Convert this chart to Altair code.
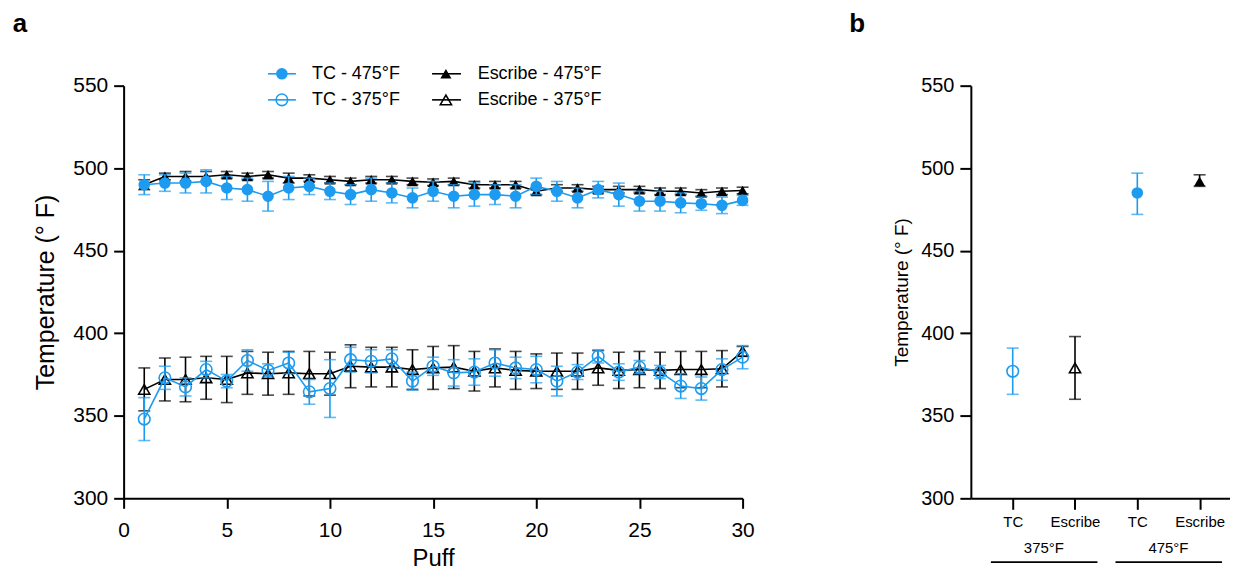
import altair as alt
import pandas as pd

# ---------------- data ----------------
puffs = list(range(1, 31))

tc475_mean = [490, 491, 491, 492, 488, 487, 483, 488, 489, 486, 484, 487, 485, 482, 486,
              483, 484, 484, 483, 489, 486, 482, 487, 484, 480, 480, 479, 478.5, 477.5, 480.5]
tc475_sd = [6, 5, 6, 7, 7, 7, 9, 7, 5, 5, 6, 7, 6, 6, 6,
            7, 7, 6, 7, 5, 6, 6, 5, 7, 6, 6, 6, 4, 5, 3]

esc475_mean = [490, 495, 495, 495, 496, 495, 496, 494, 494, 493, 492, 493, 493, 492, 491.5,
               492, 490, 490, 490, 486, 488, 488, 487, 487, 487, 486, 486, 485, 486, 486.5]
esc475_sd = [3, 2, 3, 3, 2, 2, 2, 3, 2, 2, 2, 2, 2, 2, 2,
             2, 2, 2, 2, 2, 2, 2, 2, 2, 2, 2, 2, 2, 2, 2]

tc375_mean = [348, 373, 367.5, 378, 371, 383.5, 377.5, 382, 364.5, 366.5, 384, 383, 384.5, 371, 380,
              376, 376.5, 382, 379, 378, 371, 376.5, 386, 376.5, 379.5, 376.5, 368, 366.5, 378, 385.5]
tc375_sd = [13, 7, 5.5, 5, 4, 6.5, 4, 6.5, 7.5, 17.5, 7.5, 7, 5.5, 5.5, 5.5,
            8, 8, 8, 6.5, 8, 9, 4.5, 4, 5, 4, 4, 7.5, 7, 6.5, 7]

esc375_mean = [366, 372, 372, 373, 372, 376, 375.5, 376, 375.5, 375.5, 380, 379.5, 379.5, 378, 379,
               379.5, 377, 379, 377.5, 377, 377, 377, 379, 377.5, 378, 377.5, 378, 378, 378.5, 389]
esc375_sd = [13, 13, 13.5, 13, 14, 13, 13, 13, 13.5, 13, 13, 12, 12, 12, 13,
             13, 12, 11.5, 11.5, 10.5, 11, 11, 10.5, 11, 11, 11, 11, 11, 11, 3]

# panel b summary
b_pos = [1, 2, 3, 4]
b_labels = ["TC", "Escribe", "TC", "Escribe"]
b_series = ["TC - 375°F", "Escribe - 375°F", "TC - 475°F", "Escribe - 475°F"]
b_mean = [377, 379, 485, 492]
b_low = [363, 360, 472, 489]
b_high = [391, 398, 497, 496]

group_names = ["375°F", "475°F"]
group_center = [1.5, 3.5]

# ---------------- styles ----------------
BLUE = "#1C9BF0"
BLACK = "#000000"
FONT = "Liberation Sans"
CIRCLE_SIZE = 135
TRI_SIZE = 125
styles = {
    "TC - 475°F": dict(color=BLUE, shape="circle", filled=True),
    "TC - 375°F": dict(color=BLUE, shape="circle", filled=False),
    "Escribe - 475°F": dict(color=BLACK, shape="triangle-up", filled=True),
    "Escribe - 375°F": dict(color=BLACK, shape="triangle-up", filled=False),
}
series_data = {
    "Escribe - 375°F": (esc375_mean, esc375_sd),
    "Escribe - 475°F": (esc475_mean, esc475_sd),
    "TC - 375°F": (tc375_mean, tc375_sd),
    "TC - 475°F": (tc475_mean, tc475_sd),
}

rows = []
for s, (m, sd) in series_data.items():
    for p, mv, sv in zip(puffs, m, sd):
        rows.append(dict(series=s, puff=p, mean=mv, lo=mv - sv, hi=mv + sv))
df = pd.DataFrame(rows)

# legend layout (in panel-a data units)
legend_rows = pd.DataFrame([
    dict(series="TC - 475°F", mx=7.67, x1=7.0, x2=8.35, tx=9.13, ly=557.2),
    dict(series="TC - 375°F", mx=7.67, x1=7.0, x2=8.35, tx=9.13, ly=541.4),
    dict(series="Escribe - 475°F", mx=15.62, x1=14.95, x2=16.35, tx=17.16, ly=557.2),
    dict(series="Escribe - 375°F", mx=15.62, x1=14.95, x2=16.35, tx=17.16, ly=541.4),
])

W_A, H_A = 621, 414
W_B, H_B = 260, 414


def msize(st):
    return CIRCLE_SIZE if st["shape"] == "circle" else TRI_SIZE


axis_common = dict(domainColor=BLACK, domainWidth=2, tickColor=BLACK, tickWidth=2,
                   labelColor=BLACK, titleColor=BLACK, grid=False,
                   labelFont=FONT, titleFont=FONT, titleFontWeight="normal")

xa_scale = alt.Scale(domain=[0, 30], nice=False, zero=False)
xa = alt.X("puff:Q", scale=xa_scale,
           axis=alt.Axis(values=list(range(0, 31, 5)), title="Puff", tickSize=10,
                         labelFontSize=21, titleFontSize=24, labelPadding=11,
                         titlePadding=6, labelFlush=False, **axis_common))
ya_scale = alt.Scale(domain=[300, 550], nice=False, zero=False)
ya_axis = alt.Axis(values=[300, 350, 400, 450, 500, 550], title="Temperature (° F)",
                   tickSize=10, labelFontSize=21, titleFontSize=25, labelPadding=6,
                   titlePadding=14, **axis_common)


def ya(field):
    return alt.Y(f"{field}:Q", scale=ya_scale, axis=ya_axis)


base = alt.Chart(df)
layers = []
for s in ["Escribe - 375°F", "Escribe - 475°F", "TC - 375°F", "TC - 475°F"]:
    st = styles[s]
    b = base.transform_filter(alt.datum.series == s)
    layers.append(b.mark_line(color=st["color"], strokeWidth=1.6).encode(x=xa, y=ya("mean")))
    layers.append(b.mark_rule(color=st["color"], strokeWidth=1.6).encode(
        x=xa, y=ya("lo"), y2="hi:Q"))
    layers.append(b.mark_tick(orient="horizontal", color=st["color"], size=12,
                              thickness=1.6).encode(x=xa, y=ya("lo")))
    layers.append(b.mark_tick(orient="horizontal", color=st["color"], size=12,
                              thickness=1.6).encode(x=xa, y=ya("hi")))
    layers.append(b.mark_point(shape=st["shape"], filled=st["filled"], color=st["color"],
                               size=msize(st), strokeWidth=1.6, opacity=1).encode(
        x=xa, y=ya("mean")))

# legend
lg = alt.Chart(legend_rows)
for s in ["TC - 475°F", "TC - 375°F", "Escribe - 475°F", "Escribe - 375°F"]:
    st = styles[s]
    b = lg.transform_filter(alt.datum.series == s)
    layers.append(b.mark_rule(color=st["color"], strokeWidth=1.6).encode(
        x=alt.X("x1:Q", scale=xa_scale), x2="x2:Q", y=alt.Y("ly:Q", scale=ya_scale)))
    layers.append(b.mark_point(shape=st["shape"], filled=st["filled"], color=st["color"],
                               size=msize(st), strokeWidth=1.6, opacity=1).encode(
        x=alt.X("mx:Q", scale=xa_scale), y=alt.Y("ly:Q", scale=ya_scale)))
layers.append(lg.mark_text(align="left", baseline="middle", fontSize=18, font=FONT,
                           color=BLACK).encode(
    x=alt.X("tx:Q", scale=xa_scale), y=alt.Y("ly:Q", scale=ya_scale), text="series:N"))

# panel letter a
layers.append(alt.Chart(pd.DataFrame({"t": ["a"]})).mark_text(
    align="center", baseline="alphabetic", fontSize=26, fontWeight="bold", font=FONT,
    color=BLACK).encode(x=alt.value(-104), y=alt.value(-53.7), text="t:N"))

panel_a = alt.layer(*layers).properties(width=W_A, height=H_A)

# ---------------- panel b ----------------
dfb = pd.DataFrame(dict(pos=b_pos, label=b_labels, series=b_series,
                        mean=b_mean, lo=b_low, hi=b_high))
label_expr = "[" + ",".join(f"'{l}'" for l in b_labels) + "][datum.value - 1]"
xb_scale = alt.Scale(domain=[0.328, 0.328 + W_B / 62.5], nice=False, zero=False)
xb = alt.X("pos:Q", scale=xb_scale,
           axis=alt.Axis(values=b_pos, labelExpr=label_expr, title=None, tickSize=11,
                         labelFontSize=15, labelPadding=5, labelFlush=False, **axis_common))
yb_axis = alt.Axis(values=[300, 350, 400, 450, 500, 550], title="Temperature (° F)",
                   tickSize=11, labelFontSize=20, titleFontSize=19, labelPadding=6,
                   titlePadding=9, **axis_common)


def yb(field):
    return alt.Y(f"{field}:Q", scale=ya_scale, axis=yb_axis)


bl = []
baseb = alt.Chart(dfb)
for s in b_series:
    st = styles[s]
    b = baseb.transform_filter(alt.datum.series == s)
    bl.append(b.mark_rule(color=st["color"], strokeWidth=1.6).encode(
        x=xb, y=yb("lo"), y2="hi:Q"))
    bl.append(b.mark_tick(orient="horizontal", color=st["color"], size=12,
                          thickness=1.6).encode(x=xb, y=yb("lo")))
    bl.append(b.mark_tick(orient="horizontal", color=st["color"], size=12,
                          thickness=1.6).encode(x=xb, y=yb("hi")))
    bl.append(b.mark_point(shape=st["shape"], filled=st["filled"], color=st["color"],
                           size=msize(st), strokeWidth=1.6, opacity=1).encode(
        x=xb, y=yb("mean")))

dfg = pd.DataFrame(dict(name=group_names, c=group_center))
gb = alt.Chart(dfg).transform_calculate(s="datum.c - 0.85", e="datum.c + 0.86")
bl.append(gb.mark_text(fontSize=15, font=FONT, color=BLACK, baseline="middle").encode(
    x=alt.X("c:Q", scale=xb_scale), y=alt.value(463.5), text="name:N"))
bl.append(gb.mark_rule(color=BLACK, strokeWidth=1.6).encode(
    x=alt.X("s:Q", scale=xb_scale), x2="e:Q", y=alt.value(478)))
bl.append(alt.Chart(pd.DataFrame({"t": ["b"]})).mark_text(
    align="center", baseline="alphabetic", fontSize=26, fontWeight="bold", font=FONT,
    color=BLACK).encode(x=alt.value(-114), y=alt.value(-53.7), text="t:N"))

panel_b = alt.layer(*bl).properties(width=W_B, height=H_B)

chart = alt.hconcat(panel_a, panel_b, spacing=95).properties(
    padding={"left": 4, "top": 2, "right": 0, "bottom": 0}
).configure(font=FONT).configure_view(stroke=None, strokeWidth=0)

chart.save("out.html", embed_options={"renderer": "svg", "actions": False})
